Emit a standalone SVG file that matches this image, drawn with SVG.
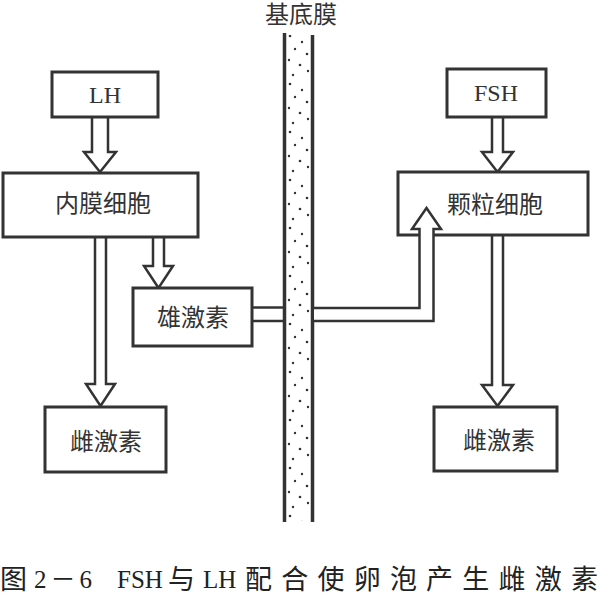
<svg xmlns="http://www.w3.org/2000/svg" width="600" height="613" viewBox="0 0 600 613">
<style>
.box{fill:#fff;stroke:#333;stroke-width:3}
.arr{fill:#fff;stroke:#333;stroke-width:2.5;stroke-linejoin:miter}
.t{font-family:"Liberation Serif","Noto Sans CJK SC",serif;font-size:24px;fill:#333;text-anchor:middle}
.cap{font-family:"Liberation Serif","Noto Sans CJK SC",serif;font-size:25px;fill:#222}
.capc{font-size:27px}
.mem{stroke:#333;stroke-width:3.5;fill:none}
</style>
<defs>
<pattern id="dots" x="286" y="33" width="26" height="48" patternUnits="userSpaceOnUse">
<g fill="#333">
<circle cx="4" cy="3" r="1.3"/><circle cx="16" cy="9" r="1.2"/>
<circle cx="9" cy="16" r="1.2"/><circle cx="21" cy="21" r="1.3"/><circle cx="3" cy="27" r="1.2"/>
<circle cx="14" cy="32" r="1.3"/><circle cx="22" cy="38" r="1.2"/><circle cx="7" cy="42" r="1.2"/>
</g>
</pattern>
</defs>
<rect width="600" height="613" fill="#fff"/>

<g id="membrane">
<rect x="286" y="35" width="25" height="486" fill="url(#dots)"/>
<line class="mem" x1="284.5" y1="33" x2="284.5" y2="522"/>
<line class="mem" x1="312.5" y1="35" x2="312.5" y2="522"/>
<text class="t" x="301" y="23">基底膜</text>
</g>

<g id="connectors">
<polyline class="arr" points="92,117 92,152 84,152 100,172 116,152 108,152 108,117"/>
<polyline class="arr" points="95,237 95,384 86,384 100.5,406 115,384 106,384 106,237"/>
<polyline class="arr" points="153,237 153,266 144,266 158.5,288 173,266 164,266 164,237"/>
<polyline class="arr" points="492,117 492,152 482,152 497.5,172 513,152 503,152 503,117"/>
<polyline class="arr" points="492,235 492,385 482,385 497.5,406 513,385 503,385 503,235"/>
<line class="arr" x1="252" y1="307.5" x2="283" y2="307.5"/>
<line class="arr" x1="252" y1="321" x2="283" y2="321"/>
</g>

<g id="lh"><rect class="box" x="52" y="72" width="106" height="45"/><text class="t" x="105" y="103">LH</text></g>
<g id="neimo"><rect class="box" x="3" y="173" width="195" height="64"/><text class="t" x="103" y="212">内膜细胞</text></g>
<g id="xiong"><rect class="box" x="133" y="288" width="119" height="58"/><text class="t" x="193" y="326">雄激素</text></g>
<g id="ci-left"><rect class="box" x="45" y="407" width="121" height="65"/><text class="t" x="106" y="450">雌激素</text></g>
<g id="fsh"><rect class="box" x="447" y="69" width="99" height="48"/><text class="t" x="496" y="101">FSH</text></g>
<g id="keli"><rect class="box" x="398" y="172" width="190" height="63"/><text class="t" x="495" y="213">颗粒细胞</text></g>
<g id="ci-right"><rect class="box" x="434" y="407" width="123" height="64"/><text class="t" x="499" y="449">雌激素</text></g>

<g id="conn-right">
<polyline class="arr" points="314,308 419.5,308 419.5,229 412,229 426.5,208 441,229 433.5,229 433.5,321 314,321"/>
</g>

<g id="caption">
<text class="cap capc" x="0" y="589">图</text>
<text class="cap" x="34" y="588" textLength="58" lengthAdjust="spacing">2－6</text>
<text class="cap" x="117" y="588">FSH</text>
<text class="cap capc" x="168" y="589">与</text>
<text class="cap" x="203" y="588">LH</text>
<text class="cap capc" x="245" y="589" textLength="353" lengthAdjust="spacing">配合使卵泡产生雌激素</text>
</g>
</svg>
